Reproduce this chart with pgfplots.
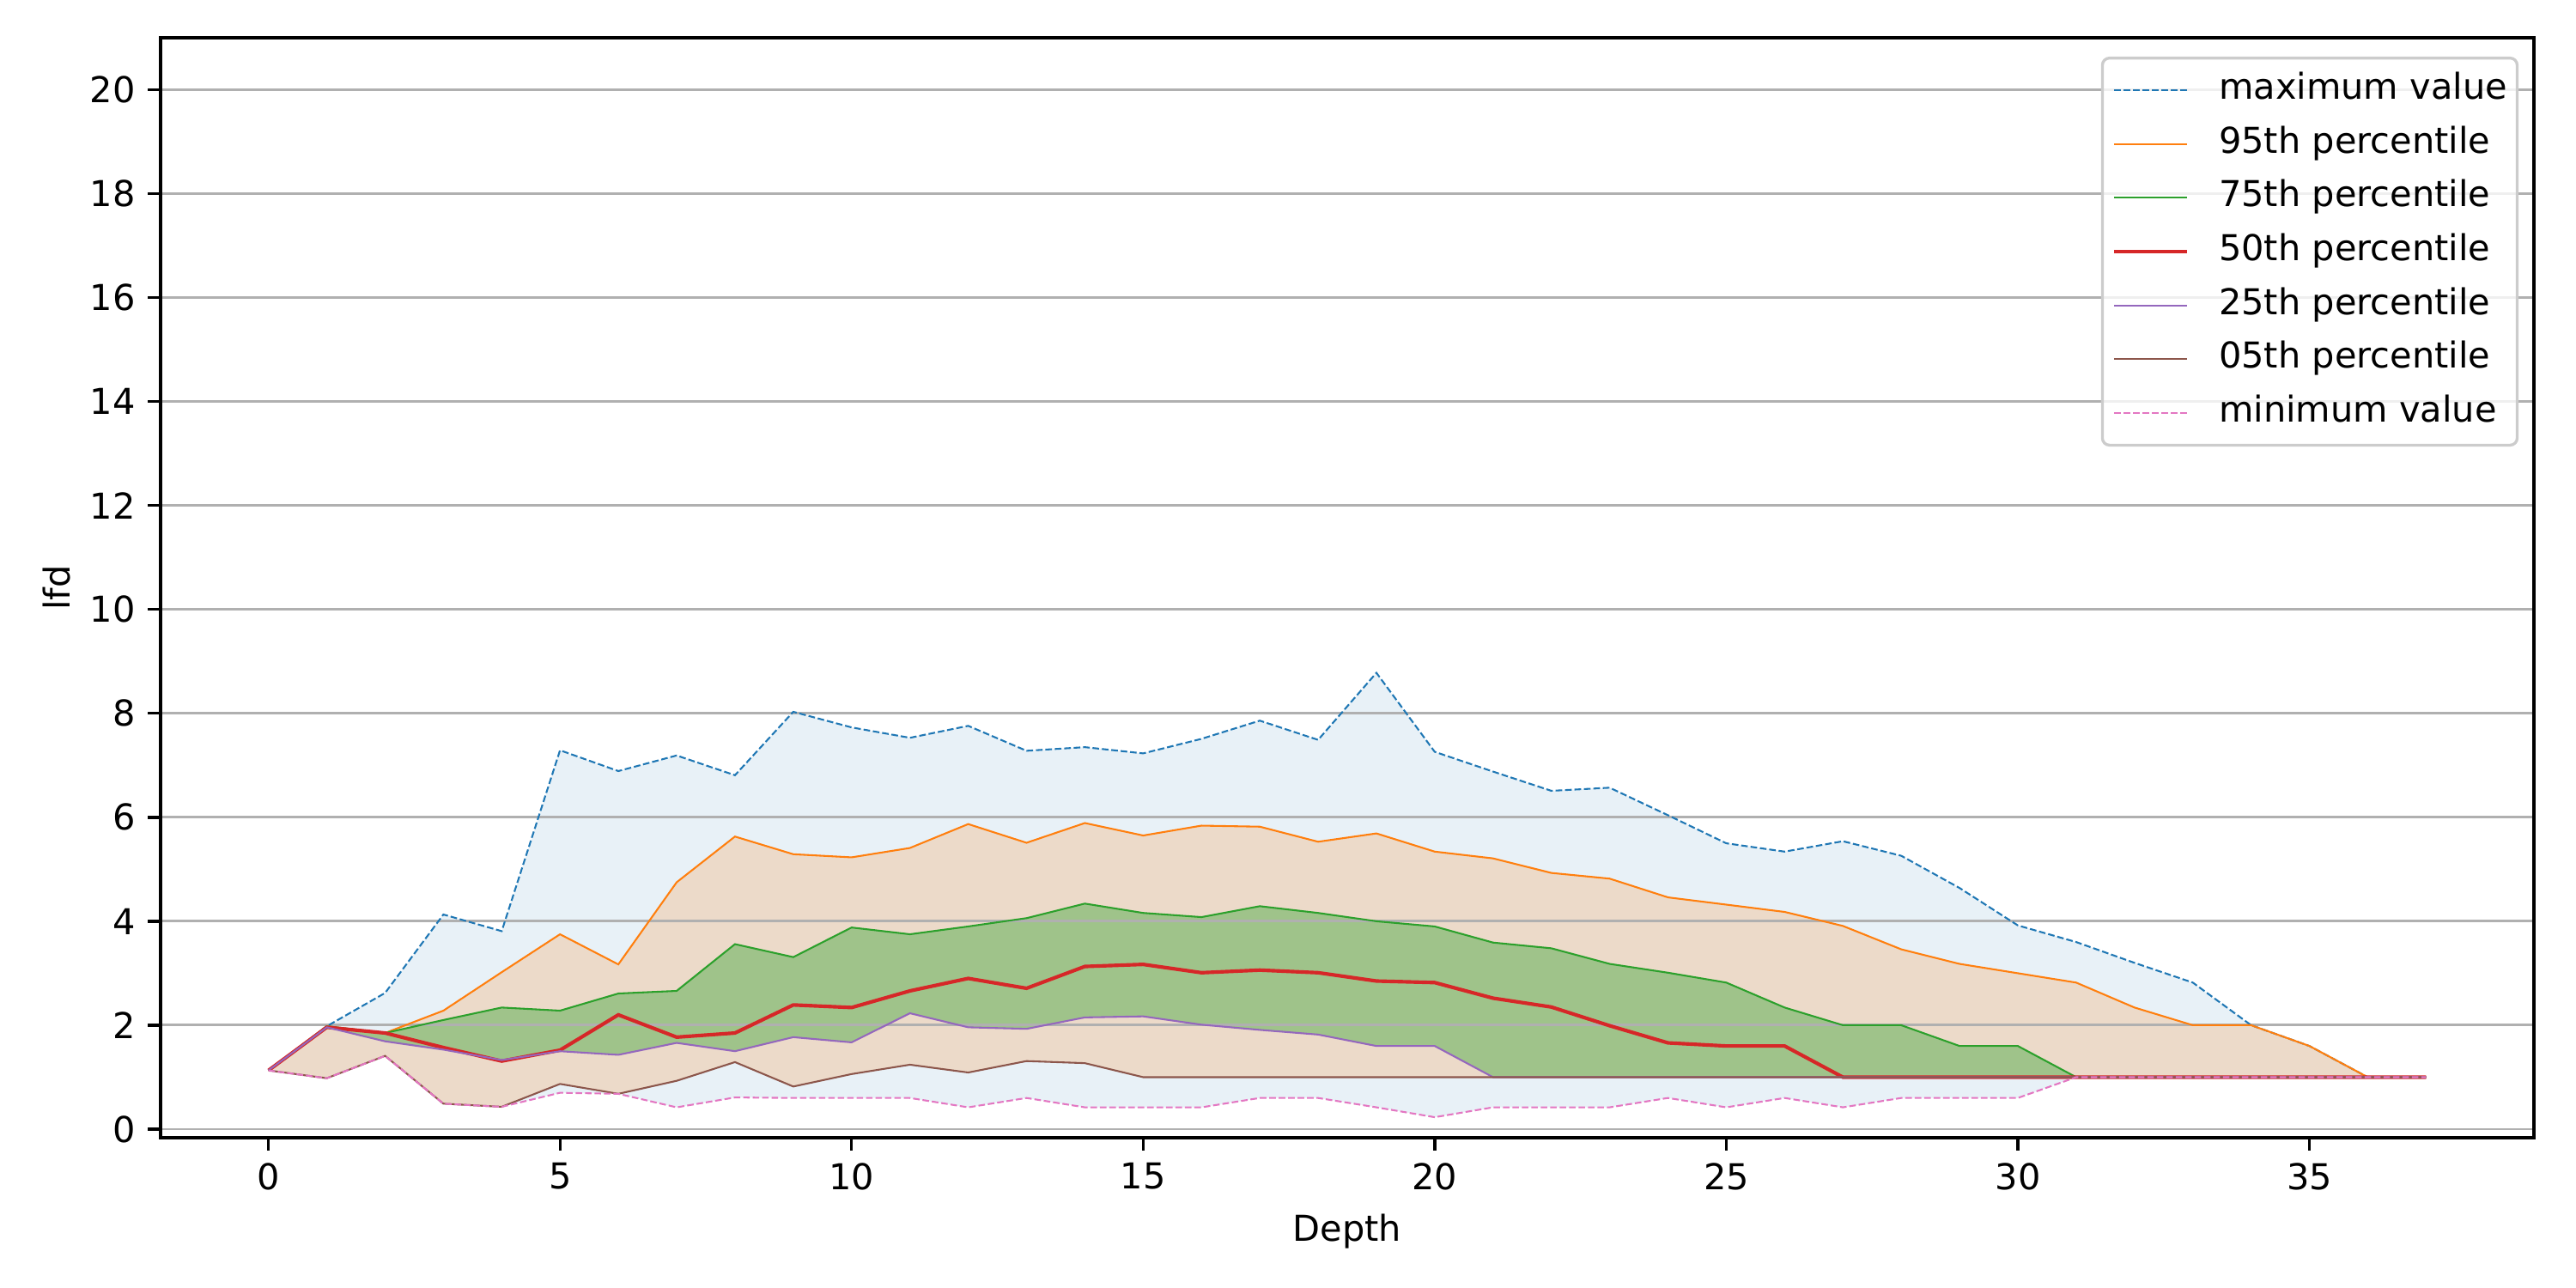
\documentclass[border=0pt]{standalone}
\usepackage{fontspec}
\setmainfont{DejaVu Sans}
\usepackage{pgfplots}
\usepackage{pgfplotstable}
\pgfplotsset{compat=1.18}
\usepgfplotslibrary{fillbetween}
\definecolor{c0}{HTML}{1F77B4}
\definecolor{c1}{HTML}{FF7F0E}
\definecolor{c2}{HTML}{2CA02C}
\definecolor{c3}{HTML}{D62728}
\definecolor{c4}{HTML}{9467BD}
\definecolor{c5}{HTML}{8C564B}
\definecolor{c6}{HTML}{E377C2}
\definecolor{gridc}{HTML}{B0B0B0}

\pgfplotstableread{
x  mx   p95  p75  p50  p25  p05  mn
0  1.13 1.13 1.13 1.13 1.13 1.13 1.13
1  1.98 1.98 1.98 1.96 1.96 0.98 0.98
2  2.62 1.85 1.85 1.85 1.69 1.41 1.41
3  4.13 2.28 2.10 1.57 1.53 0.49 0.49
4  3.81 3.02 2.34 1.31 1.33 0.43 0.43
5  7.29 3.75 2.28 1.52 1.50 0.87 0.70
6  6.89 3.17 2.61 2.20 1.43 0.68 0.68
7  7.19 4.75 2.66 1.77 1.66 0.93 0.42
8  6.81 5.63 3.56 1.85 1.50 1.29 0.61
9  8.03 5.29 3.31 2.39 1.77 0.82 0.60
10 7.73 5.23 3.88 2.34 1.67 1.06 0.60
11 7.53 5.41 3.75 2.66 2.23 1.24 0.60
12 7.76 5.87 3.90 2.90 1.96 1.09 0.42
13 7.28 5.51 4.06 2.71 1.93 1.31 0.60
14 7.35 5.89 4.34 3.13 2.15 1.27 0.42
15 7.23 5.65 4.16 3.17 2.17 1.00 0.42
16 7.51 5.84 4.08 3.01 2.01 1.00 0.42
17 7.86 5.82 4.29 3.06 1.91 1.00 0.60
18 7.49 5.53 4.16 3.01 1.82 1.00 0.60
19 8.78 5.69 4.00 2.85 1.60 1.00 0.42
20 7.26 5.34 3.90 2.82 1.60 1.00 0.23
21 6.88 5.21 3.59 2.52 1.00 1.00 0.42
22 6.51 4.93 3.48 2.35 1.00 1.00 0.42
23 6.57 4.82 3.18 1.99 1.00 1.00 0.42
24 6.04 4.46 3.01 1.66 1.00 1.00 0.60
25 5.50 4.32 2.82 1.60 1.00 1.00 0.42
26 5.34 4.18 2.34 1.60 1.00 1.00 0.60
27 5.54 3.91 2.00 1.00 1.00 1.00 0.42
28 5.26 3.46 2.00 1.00 1.00 1.00 0.60
29 4.64 3.18 1.60 1.00 1.00 1.00 0.60
30 3.92 3.00 1.60 1.00 1.00 1.00 0.60
31 3.60 2.82 1.00 1.00 1.00 1.00 1.00
32 3.20 2.34 1.00 1.00 1.00 1.00 1.00
33 2.82 2.00 1.00 1.00 1.00 1.00 1.00
34 2.00 2.00 1.00 1.00 1.00 1.00 1.00
35 1.60 1.60 1.00 1.00 1.00 1.00 1.00
36 1.00 1.00 1.00 1.00 1.00 1.00 1.00
37 1.00 1.00 1.00 1.00 1.00 1.00 1.00
}\data

\begin{document}
\begin{tikzpicture}
\begin{axis}[
  at={(0pt,0pt)}, anchor=south west,
  scale only axis, width=665.85pt, height=308.6pt,
  set layers,
  xmin=-1.85, xmax=38.85, ymin=-0.165, ymax=21.0,
  xtick={0,5,...,35}, ytick={0,2,...,20},
  xtick pos=bottom, ytick pos=left,
  tick align=outside, major tick length=3.5pt,
  tick style={black, line width=0.8pt},
  axis line style={black, line width=0.8pt},
  ymajorgrids, major grid style={gridc, line width=0.7pt},
  /pgf/number format/assume math mode=true,
  tick label style={font=\fontsize{10}{12}\selectfont},
  xlabel={Depth}, ylabel={lfd},
  every axis x label/.style={at={(rel axis cs:0.5,-0.0937)}, anchor=base, font=\fontsize{10}{12}\selectfont},
  every axis y label/.style={at={(rel axis cs:-0.038,0.5)}, anchor=base, rotate=90, font=\fontsize{10}{12}\selectfont},
  legend cell align=left,
  legend image code/.code={\draw[#1] (0pt,0pt) -- (20.5pt,0pt);},
  legend style={at={(rel axis cs:1,1)}, anchor=north east, xshift=-4.3pt, yshift=-5.3pt,
    draw=black!20, line width=0.8pt, rounded corners=2pt, fill=white, fill opacity=0.8,
    draw opacity=1, text opacity=1, font=\fontsize{10}{12}\selectfont,
    inner xsep=2.8pt, inner ysep=4pt, row sep=5.1pt,
    nodes={inner sep=0pt, text height=7.5pt, text depth=2.5pt},
    /tikz/every odd column/.append style={column sep=8.4pt}},
]
\addplot[name path=pmx, c0, line width=0.5pt, dash pattern=on 1.85pt off 0.8pt] table[x=x,y=mx]{\data};
\addplot[name path=p95, c1, line width=0.5pt] table[x=x,y=p95]{\data};
\addplot[name path=p75, c2, line width=0.5pt] table[x=x,y=p75]{\data};
\addplot[c3, line width=1pt] table[x=x,y=p50]{\data};
\addplot[name path=p25, c4, line width=0.5pt] table[x=x,y=p25]{\data};
\addplot[name path=p05, c5, line width=0.5pt] table[x=x,y=p05]{\data};
\addplot[name path=pmn, c6, line width=0.5pt, dash pattern=on 1.85pt off 0.8pt] table[x=x,y=mn]{\data};
\legend{maximum value, 95th percentile, 75th percentile, 50th percentile, 25th percentile, 05th percentile, minimum value}
\addplot[fill=c0, fill opacity=0.1, draw=none, forget plot] fill between[of=pmx and pmn, on layer=axis background];
\addplot[fill=c1, fill opacity=0.2, draw=none, forget plot] fill between[of=p95 and p05, on layer=axis background];
\addplot[fill=c2, fill opacity=0.4, draw=none, forget plot] fill between[of=p75 and p25, on layer=axis background];
\end{axis}
\path (-45.05pt,-42.16pt) rectangle ++(722.7pt,361.35pt);
\end{tikzpicture}
\end{document}
